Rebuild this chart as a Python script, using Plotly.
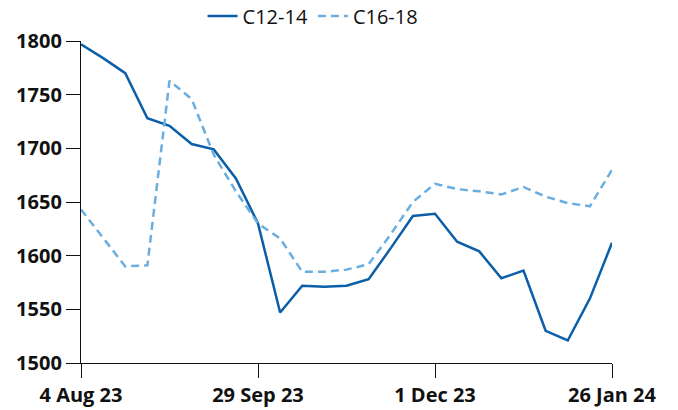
import plotly.graph_objects as go

dates = ["4 Aug 23", "11 Aug 23", "18 Aug 23", "25 Aug 23", "1 Sep 23", "8 Sep 23",
         "15 Sep 23", "22 Sep 23", "29 Sep 23", "6 Oct 23", "13 Oct 23", "20 Oct 23",
         "27 Oct 23", "3 Nov 23", "10 Nov 23", "17 Nov 23", "1 Dec 23", "8 Dec 23",
         "15 Dec 23", "22 Dec 23", "29 Dec 23", "5 Jan 24", "12 Jan 24", "19 Jan 24",
         "26 Jan 24"]
c12_14 = [1797, 1784, 1770, 1728, 1721, 1704, 1699, 1672, 1630, 1547, 1572, 1571,
          1572, 1578, 1607, 1637, 1639, 1613, 1604, 1579, 1586, 1530, 1521, 1560, 1612]
c16_18 = [1643, 1617, 1590, 1591, 1763, 1746, 1694, 1660, 1630, 1616, 1585, 1585,
          1587, 1592, 1620, 1650, 1667, 1662, 1660, 1657, 1664, 1655, 1649, 1646, 1680]
tick_labels = ["4 Aug 23", "29 Sep 23", "1 Dec 23", "26 Jan 24"]
y_ticks = [1500, 1550, 1600, 1650, 1700, 1750, 1800]

FONT = "Open Sans"

fig = go.Figure()
fig.add_trace(go.Scatter(x=dates, y=c12_14, name="C12-14", mode="lines",
                         line=dict(color="#0b5ea8", width=2.5)))
fig.add_trace(go.Scatter(x=dates, y=c16_18, name="C16-18", mode="lines",
                         line=dict(color="#6aaee0", width=2.5, dash="8px,5px")))

fig.update_layout(
    width=678, height=410,
    margin=dict(l=81, r=66, t=41, b=47, autoexpand=False),
    plot_bgcolor="white", paper_bgcolor="white",
    font=dict(family=FONT, size=20, color="#111111"),
    showlegend=True,
    legend=dict(orientation="h", x=0.437, xanchor="center", y=1.078, yanchor="middle",
                font=dict(size=20, family=FONT, color="#111111"),
                bgcolor="rgba(0,0,0,0)", itemwidth=30),
    xaxis=dict(type="category", categoryorder="array", categoryarray=dates,
               range=[0, len(dates) - 1], tickmode="array", tickvals=tick_labels,
               ticktext=tick_labels, showline=True, linecolor="#111111", linewidth=1.3,
               ticks="outside", ticklen=14, tickcolor="#111111", showgrid=False,
               zeroline=False, automargin=False,
               tickfont=dict(family=FONT, size=20, weight="bold", color="#111111")),
    yaxis=dict(range=[1500, 1800], tickvals=y_ticks, showline=True, linecolor="#111111",
               linewidth=1.3, ticks="outside", ticklen=14, tickcolor="#111111",
               showgrid=False, zeroline=False, automargin=False,
               tickfont=dict(family=FONT, size=20, weight="bold", color="#111111")),
)

fig.write_html("out.html", config={"displayModeBar": False})

# remove the browser's default 8px body margin so the figure fills the window
with open("out.html", "r", encoding="utf-8") as f:
    html = f.read()
html = html.replace("<head>", "<head><style>html,body{margin:0;padding:0;overflow:hidden;}</style>", 1)
with open("out.html", "w", encoding="utf-8") as f:
    f.write(html)
